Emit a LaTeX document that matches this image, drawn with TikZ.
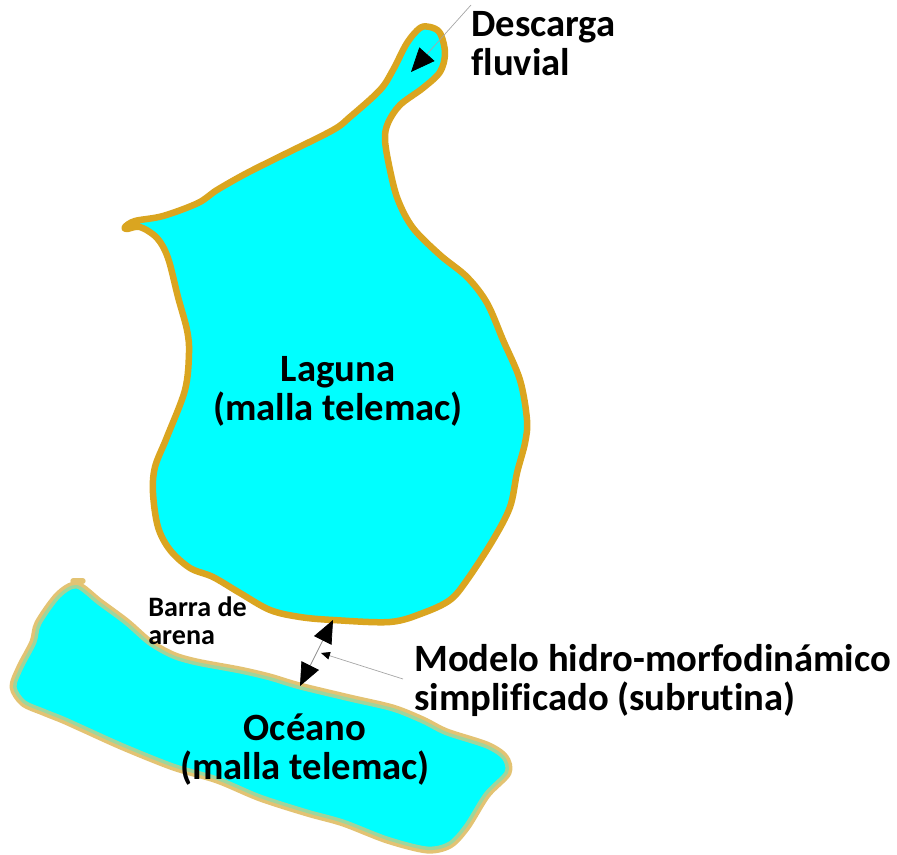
\documentclass[tikz,border=0pt]{standalone}
\usepackage{fontspec}
\setmainfont[Ligatures=NoCommon]{Carlito}
\usetikzlibrary{positioning, arrows.meta}
\definecolor{agua}{HTML}{00FFFF}
\definecolor{orilla}{HTML}{DAA520}
\definecolor{orillaclara}{HTML}{E3C373}
\def\contornolaguna{(430,27) (420,28) (407,43) (393,70) (380,90) (350,117) (333,130) (283,155) (247,173) (217,190)
(198,203) (163,216) (135,221) (125,227) (127,229) (140,227) (157,238) (168,258) (178,297) (187,330) (189,353) (185,390)
(167,437) (155,467) (153,493) (158,527) (170,550) (190,568) (213,577) (240,593) (270,610) (300,617) (333,620)
(390,622) (423,613) (450,600) (467,580) (493,540) (510,507) (517,473) (525,443) (527,420) (520,380) (503,340)
(487,303) (467,277) (440,255) (413,228) (398,200) (390,170) (385,140) (388,123) (400,105) (423,88) (440,72) (445,53) (440,33)}
\def\contornooceano{(77,585) (58,595) (38,623) (33,642) (20,667) (13,687) (23,703) (43,712) (63,720) (83,729) (123,747)
(173,767) (217,780) (260,798) (307,813) (343,823) (387,840) (427,850) (450,845) (467,827) (487,795) (508,773)
(505,757) (487,745) (447,732) (423,720) (393,708) (350,698) (300,686) (270,677) (240,670) (197,662) (173,655)
(150,642) (127,622) (100,602)}
\tikzset{
  etiqueta/.style={font=\fontsize{22pt}{22.2pt}\selectfont\bfseries, align=left, inner sep=0pt, text=black},
  etiquetac/.style={etiqueta, align=center},
  chica/.style={font=\fontsize{16pt}{16.2pt}\selectfont\bfseries, align=left, inner sep=0pt, text=black},
  flecha/.style={draw=black!35, line width=0.4pt, -{Triangle[black, length=#1, width=#1*0.85]}},
  flechas/.style={draw=black!45, line width=0.4pt, {Triangle[black, length=#1, width=#1*0.85]}-{Triangle[black, length=#1, width=#1*0.85]}}}

\begin{document}
\begin{tikzpicture}[x=0.02cm, y=-0.02cm]
\useasboundingbox (0,0) rectangle (897,855);
% laguna
\draw [line width=3.7pt, draw=orilla, fill=agua, line join=round] plot [smooth cycle, tension=0.55] coordinates {\contornolaguna};
% oceano
\draw [line width=4pt, draw=orillaclara, fill=agua, line join=round] plot [smooth cycle, tension=0.5] coordinates {\contornooceano};
\fill [agua, opacity=0.3] plot [smooth cycle, tension=0.5] coordinates {\contornooceano};
\draw [line width=3pt, draw=orillaclara, line cap=round] (73,581) -- (83,581);
% textos
\node [etiqueta, anchor=north west] (descarga) at (471,11) {Descarga\\fluvial};
\node [etiquetac] (laguna) at (338,391) {Laguna\\(malla telemac)};
\node [etiquetac] (oceano) at (305,750) {Océano\\(malla telemac)};
\node [chica, anchor=north west] (barra) at (148,596) {Barra de\\arena};
\node [etiqueta, anchor=north west] (modelo) at (414,644) {Modelo hidro-morfodinámico\\simplificado (subrutina)};
% flechas
\coordinate (rio) at (471,5);
\coordinate (rioin) at (411,72);
\coordinate (bordelag) at (333,620);
\coordinate (bordeoc) at (300,686);
\coordinate (sub) at (403,679);
\coordinate (subin) at (321,653);
\draw [flecha=24*0.567pt] (rio) -- (rioin);
\draw [flechas=23*0.567pt] (bordelag) -- (bordeoc);
\draw [flecha=9*0.567pt] (sub) -- (subin);
\end{tikzpicture}
\end{document}
